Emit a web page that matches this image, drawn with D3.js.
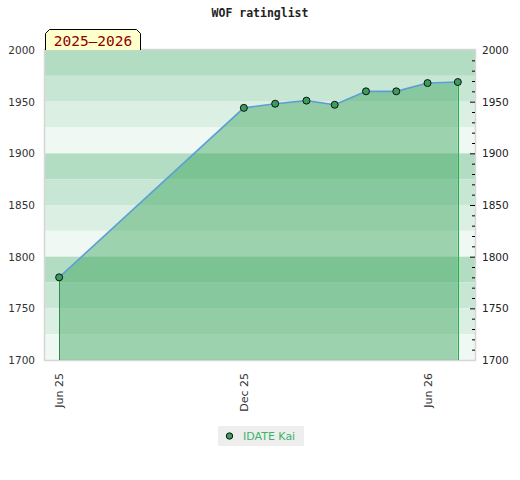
<!DOCTYPE html>
<html lang="en">
<head>
  <meta charset="utf-8">
  <title>WOF ratinglist</title>
  <script src="https://d3js.org/d3.v7.min.js"></script>
  <style>
    body { margin: 0; background: #fff; }
    text { font-family: "DejaVu Sans", sans-serif; }
  </style>
</head>
<body>
<div id="my_dataviz"></div>
<script>
// rating list entries
const dates = ["2025-06-01", "2025-12-01", "2026-01-01", "2026-02-01", "2026-03-01",
               "2026-04-01", "2026-05-01", "2026-06-01", "2026-07-01"];
const ratings = [1780, 1944, 1948, 1951, 1947, 1960, 1960, 1968, 1969];
const playerName = "IDATE Kai";
const seasonLabel = "2025\u20132026";
const xTicks = ["2025-06-01", "2025-12-01", "2026-06-01"];
const yTicks = [1700, 1750, 1800, 1850, 1900, 1950, 2000];

const parse = d3.timeParse("%Y-%m-%d");
const data = dates.map((d, i) => ({date: parse(d), value: ratings[i]}));

const margin = {top: 50, right: 45, bottom: 120, left: 45},
    width = 520 - margin.left - margin.right,
    height = 480 - margin.top - margin.bottom;

const svg = d3.select("#my_dataviz")
  .append("svg")
    .attr("width", 520)
    .attr("height", 480);

const g = svg.append("g")
    .attr("transform", `translate(${margin.left},${margin.top})`);

const x = d3.scaleTime()
  .domain([parse("2025-05-18"), parse("2026-07-18")])
  .range([0, width]);

const y = d3.scaleLinear()
  .domain([1700, 2000])
  .range([height, 0]);

// background bands, 25 points each, 4 shades repeating
const bandColors = ["#b3ddc3", "#c8e6d4", "#dcefe3", "#eff8f2"];
const bands = d3.range(2000, 1700, -25);
g.selectAll(".band")
  .data(bands)
  .join("rect")
    .attr("x", 0)
    .attr("y", d => y(d))
    .attr("width", width)
    .attr("height", d => y(d - 25) - y(d))
    .attr("fill", (d, i) => bandColors[i % 4]);

// frame
g.append("rect")
  .attr("x", -0.5).attr("y", -0.5)
  .attr("width", width + 1).attr("height", height + 1)
  .attr("fill", "none")
  .attr("stroke", "#d6d6d6")
  .attr("stroke-width", 1.5);

// area under rating
const area = d3.area()
  .x(d => x(d.date))
  .y0(y(1700))
  .y1(d => y(d.value));

g.append("path")
  .datum(data)
  .attr("d", area)
  .attr("fill", "rgb(58,166,93)")
  .attr("fill-opacity", 0.46);

// first / last drop lines
const first = data[0], last = data[data.length - 1];
const px = v => Math.round(x(v)) + 0.5;
g.append("line")
  .attr("x1", px(first.date)).attr("x2", px(first.date))
  .attr("y1", y(first.value)).attr("y2", height)
  .attr("stroke", "#2e8b4e").attr("stroke-width", 1);
g.append("line")
  .attr("x1", px(last.date)).attr("x2", px(last.date))
  .attr("y1", y(last.value)).attr("y2", height)
  .attr("stroke", "#1fb34a").attr("stroke-width", 1);

// rating line
const line = d3.line()
  .x(d => x(d.date))
  .y(d => y(d.value));

g.append("path")
  .datum(data)
  .attr("d", line)
  .attr("fill", "none")
  .attr("stroke", "#5b9fd6")
  .attr("stroke-width", 1.6);

g.selectAll(".dot")
  .data(data)
  .join("circle")
    .attr("cx", d => x(d.date))
    .attr("cy", d => y(d.value))
    .attr("r", 3.5)
    .attr("fill", "#3a9d5d")
    .attr("stroke", "#111")
    .attr("stroke-width", 1);

// left axis (labels only)
const yAxisL = g.append("g")
  .call(d3.axisLeft(y).tickValues(yTicks).tickSize(0).tickPadding(10).tickFormat(d3.format("d")));
yAxisL.select(".domain").remove();
yAxisL.selectAll("text").attr("font-size", "10.5px").attr("fill", "#333").style("font-family", "DejaVu Sans");

// right axis: minor ticks every 10, major every 50, drawn inside
const minor = d3.range(1700, 2001, 10).filter(v => v % 50 !== 0);
g.append("g")
  .attr("transform", `translate(${width},0)`)
  .call(d3.axisLeft(y).tickValues(minor).tickSize(3).tickFormat(""))
  .call(a => a.select(".domain").remove())
  .selectAll("line").attr("stroke", "#000");
const yAxisR = g.append("g")
  .attr("transform", `translate(${width},0)`)
  .call(d3.axisRight(y).tickValues(yTicks).tickSize(0).tickPadding(7).tickFormat(d3.format("d")));
yAxisR.select(".domain").remove();
yAxisR.selectAll("text").attr("font-size", "10.5px").attr("fill", "#222").style("font-family", "DejaVu Sans");
g.append("g")
  .attr("transform", `translate(${width},0)`)
  .call(d3.axisLeft(y).tickValues(yTicks.slice(1, -1)).tickSize(5).tickFormat(""))
  .call(a => a.select(".domain").remove())
  .selectAll("line").attr("stroke", "#000");

// bottom axis, rotated labels
const xAxis = g.append("g")
  .attr("transform", `translate(0,${height})`)
  .call(d3.axisBottom(x).tickValues(xTicks.map(parse)).tickSize(0).tickFormat(d3.timeFormat("%b %y")));
xAxis.select(".domain").remove();
xAxis.selectAll("text")
  .attr("font-size", "11px")
  .attr("fill", "#333")
  .style("font-family", "DejaVu Sans")
  .attr("text-anchor", "end")
  .attr("transform", "rotate(-90)")
  .attr("x", -13)
  .attr("y", 0)
  .attr("dy", "0.35em");

// title
svg.append("text")
  .attr("x", 260).attr("y", 17)
  .attr("text-anchor", "middle")
  .style("font-family", "DejaVu Sans Mono")
  .attr("font-weight", "bold")
  .attr("font-size", "11.5px")
  .attr("fill", "#222")
  .text("WOF ratinglist");

// season label box
const bx0 = 45.5, bx1 = 140.5, by0 = 29.5, by1 = 50, c = 4;
svg.append("path")
  .attr("d", `M${bx0},${by1}L${bx0},${by0 + c}L${bx0 + c},${by0}L${bx1 - c},${by0}L${bx1},${by0 + c}L${bx1},${by1}`)
  .attr("fill", "#ffffcc")
  .attr("stroke", "#000")
  .attr("stroke-width", 1);
svg.append("text")
  .attr("x", (bx0 + bx1) / 2).attr("y", 45.5)
  .attr("text-anchor", "middle")
  .style("font-family", "DejaVu Sans Mono")
  .attr("font-size", "14.5px")
  .attr("fill", "#8b0000")
  .text(seasonLabel);

// legend
const legend = svg.append("g").attr("transform", "translate(218,426)");
legend.append("rect")
  .attr("width", 86).attr("height", 20)
  .attr("fill", "#eeeeee");
legend.append("circle")
  .attr("cx", 11.5).attr("cy", 10)
  .attr("r", 3.2)
  .attr("fill", "#3a9d5d")
  .attr("stroke", "#111");
legend.append("text")
  .attr("x", 25).attr("y", 14)
  .style("font-family", "DejaVu Sans")
  .attr("font-size", "11px")
  .attr("fill", "#3cb36a")
  .text(playerName);
</script>
</body>
</html>
